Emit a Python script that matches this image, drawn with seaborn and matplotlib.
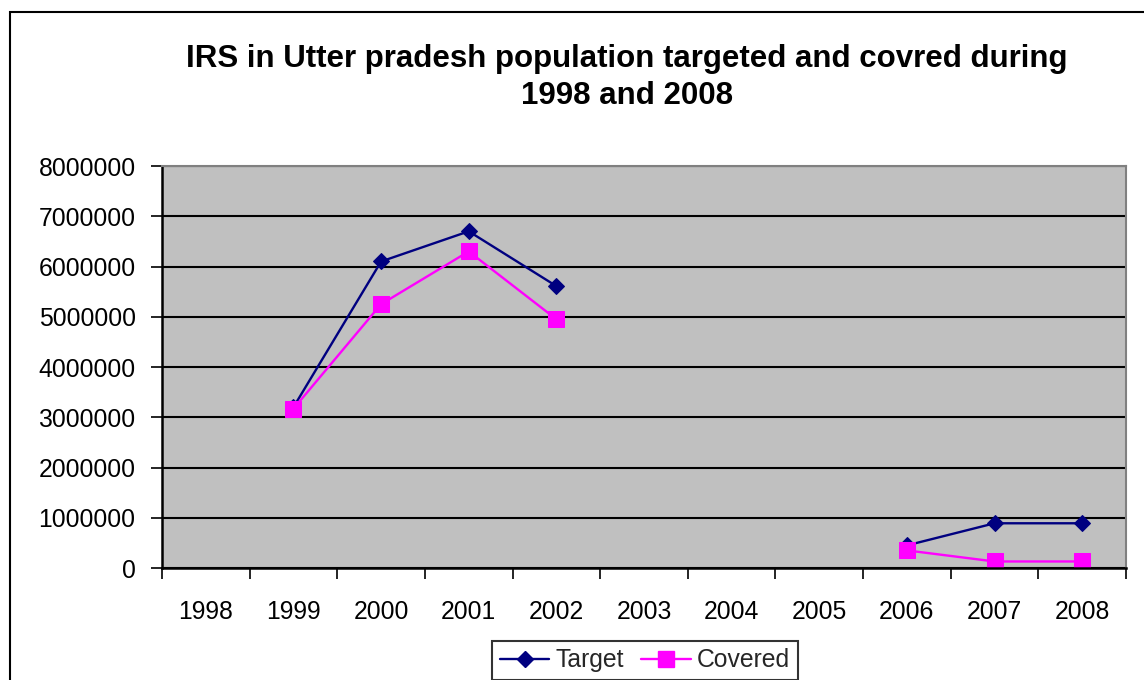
import numpy as np
import pandas as pd
import seaborn as sns
import matplotlib
matplotlib.use("Agg")
import matplotlib.pyplot as plt
from matplotlib.lines import Line2D
from matplotlib.patches import Rectangle

years = ["1998", "1999", "2000", "2001", "2002", "2003", "2004", "2005", "2006", "2007", "2008"]
target = [np.nan, 3200000, 6100000, 6700000, 5610000, np.nan, np.nan, np.nan, 450000, 890000, 890000]
covered = [np.nan, 3170000, 5250000, 6300000, 4950000, np.nan, np.nan, np.nan, 350000, 130000, 130000]
y_ticks = [0, 1000000, 2000000, 3000000, 4000000, 5000000, 6000000, 7000000, 8000000]
title = "IRS in Utter pradesh population targeted and covred during\n1998 and 2008"

sns.set_theme(style="white")
plt.rcParams["font.family"] = ["Liberation Sans", "DejaVu Sans"]

fig = plt.figure(figsize=(11.44, 6.8), dpi=100)
ax = fig.add_axes([162/1144, 1-568/680, (1126-162)/1144, (568-166)/680])
ax.set_facecolor("#C0C0C0")

series = [("Target", target, "#000080", "D", 8.6), ("Covered", covered, "#FF00FF", "s", 11.5)]
x_idx = np.arange(len(years))
for name, vals, color, marker, ms in series:
    df = pd.DataFrame({"x": x_idx, "y": vals})
    df["seg"] = df["y"].isna().cumsum()
    df = df.dropna()
    for _, seg in df.groupby("seg"):
        sns.lineplot(data=seg, x="x", y="y", ax=ax, color=color, marker=marker,
                     markersize=ms, markeredgecolor=color, linewidth=1.7, legend=False)

ax.set_xlim(-0.5, len(years) - 0.5)
ax.set_ylim(0, 8000000)
ax.set_xlabel("")
ax.set_ylabel("")

fs = 17.8
# y axis
ax.set_yticks(y_ticks)
ax.set_yticklabels([str(v) for v in y_ticks])
ax.yaxis.grid(True, color="black", linewidth=1.5)
ax.set_axisbelow(True)
ax.tick_params(axis="y", which="major", left=True, length=8, width=1.2, color="black",
               direction="out", pad=11, labelsize=fs, labelcolor="black")

# x axis: ticks at category boundaries, labels at centers
ax.set_xticks(np.arange(-0.5, len(years), 1.0))
ax.set_xticklabels([])
ax.set_xticks(x_idx, minor=True)
ax.set_xticklabels(years, minor=True)
ax.tick_params(axis="x", which="major", bottom=True, length=8, width=1.2, color="black", direction="out")
ax.tick_params(axis="x", which="minor", bottom=True, length=0, pad=23, labelsize=fs, labelcolor="black")
ax.xaxis.grid(False)

for side in ["left", "bottom"]:
    ax.spines[side].set_color("black")
    ax.spines[side].set_linewidth(1.8)
for side in ["top", "right"]:
    ax.spines[side].set_color("#808080")
    ax.spines[side].set_linewidth(1.5)

fig.text(627/1144, 1-44/680, title, ha="center", va="top", fontsize=22.5,
         fontweight="bold", linespacing=1.32, color="black")

handles = [Line2D([0], [0], color=c, marker=m, markersize=ms, markeredgecolor=c, linewidth=1.7, label=n)
           for n, _, c, m, ms in series]
leg = fig.legend(handles=handles, loc="upper center", bbox_to_anchor=(645/1144, 1-641/680),
                 ncol=2, frameon=True, fancybox=False, shadow=False, fontsize=fs,
                 handlelength=2.0, handletextpad=0.25, columnspacing=0.7, borderpad=0.3,
                 borderaxespad=0)
leg.get_frame().set_edgecolor("black")
leg.get_frame().set_linewidth(1.5)
leg.get_frame().set_facecolor("white")

fig.patches.append(Rectangle((10/1144, -0.05), 1.2, 1-12/680+0.05, transform=fig.transFigure,
                             fill=False, edgecolor="black", linewidth=1.5))

fig.savefig("out.png", dpi=100, facecolor="white")
